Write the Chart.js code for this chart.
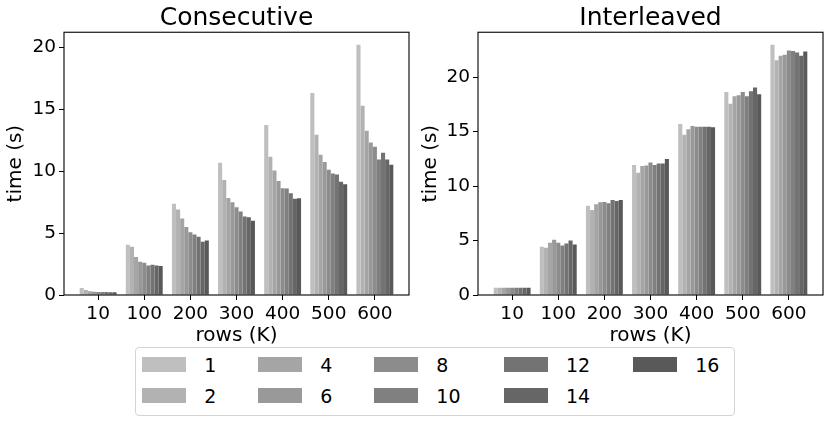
<!DOCTYPE html>
<html>
<head>
<meta charset="utf-8">
<script src="https://cdn.jsdelivr.net/npm/chart.js@4.4.0/dist/chart.umd.min.js"></script>
<style>
  body { margin: 0; background: #fff; font-family: "DejaVu Sans", sans-serif; }
  #page { position: relative; width: 830px; height: 423px; overflow: hidden; }
  .panel { position: absolute; top: 0; width: 415px; height: 348px; }
  #legend {
    position: absolute; left: 135px; top: 347px; width: 592px; height: 66px;
    border: 1px solid #d4d4d4; border-radius: 4px; background: #fff;
    display: grid; grid-auto-flow: column;
    grid-template-rows: 31px 31px;
    grid-template-columns: 116px 116px 129.7px 129.3px auto;
    padding: 1px 0 0 6.3px; box-sizing: content-box;
  }
  .item { display: flex; align-items: center; font-size: 19px; color: #000; }
  .swatch { width: 44px; height: 15px; margin-right: 18px; }
</style>
</head>
<body>
<div id="page">
  <div class="panel" style="left:0"><canvas id="left"></canvas></div>
  <div class="panel" style="left:415px"><canvas id="right"></canvas></div>
  <div id="legend"></div>
</div>
<script>
// x 軸のカテゴリ（行数, 千行）
const rowLabels = ['10', '100', '200', '300', '400', '500', '600'];
// スレッド数（凡例）
const threadLabels = ['1', '2', '4', '6', '8', '10', '12', '14', '16'];
const threadColors = ['#bfbfbf', '#b2b2b2', '#a5a5a5', '#999999', '#8c8c8c', '#808080', '#737373', '#666666', '#595959'];
const yTicks = [0, 5, 10, 15, 20];

// Consecutive: 1行 = 1スレッド数, 列 = rowLabels
const consecutive = [
    [0.56, 4.05, 7.36, 10.68, 13.72, 16.30, 20.20],
    [0.40, 3.89, 6.90, 9.29, 11.17, 12.94, 15.28],
    [0.30, 3.06, 6.17, 7.84, 10.04, 11.33, 13.26],
    [0.27, 2.68, 5.48, 7.49, 9.21, 10.74, 12.32],
    [0.25, 2.60, 5.07, 7.09, 8.62, 10.12, 11.97],
    [0.24, 2.38, 4.89, 6.74, 8.59, 9.80, 10.93],
    [0.24, 2.44, 4.70, 6.34, 8.21, 9.72, 11.49],
    [0.23, 2.38, 4.30, 6.28, 7.76, 9.15, 10.93],
    [0.23, 2.35, 4.40, 5.99, 7.81, 8.94, 10.52]
];

// Interleaved
const interleaved = [
    [0.67, 4.42, 8.20, 11.92, 15.70, 18.63, 22.96],
    [0.67, 4.33, 7.80, 11.22, 14.70, 17.56, 21.55],
    [0.67, 4.79, 8.32, 11.83, 15.20, 18.23, 21.95],
    [0.67, 5.06, 8.50, 11.89, 15.50, 18.32, 22.04],
    [0.67, 4.79, 8.54, 12.16, 15.45, 18.63, 22.44],
    [0.67, 4.54, 8.41, 11.92, 15.45, 18.23, 22.38],
    [0.67, 4.73, 8.72, 12.07, 15.43, 18.69, 22.26],
    [0.67, 5.00, 8.63, 12.07, 15.45, 19.05, 21.95],
    [0.67, 4.63, 8.72, 12.47, 15.40, 18.41, 22.35]
];

Chart.defaults.font.family = '"DejaVu Sans", sans-serif';
Chart.defaults.color = '#000';

// 枠線（matplotlib 風の四辺）
const framePlugin = {
    id: 'frame',
    afterDraw(chart) {
        const { ctx, chartArea: a } = chart;
        ctx.save();
        ctx.strokeStyle = '#000';
        ctx.lineWidth = 1.1;
        ctx.strokeRect(a.left, a.top, a.right - a.left, a.bottom - a.top);
        ctx.restore();
    }
};

function makeChart(id, title, values, yMax, yWidth, padRight) {
    const datasets = values.map((row, i) => ({
        label: threadLabels[i],
        data: row.map((v, j) => ({ x: j, y: v })),
        backgroundColor: threadColors[i],
        borderWidth: 0,
        categoryPercentage: 0.8,
        barPercentage: 1.0
    }));
    return new Chart(document.getElementById(id), {
        type: 'bar',
        data: { datasets },
        plugins: [framePlugin],
        options: {
            responsive: true,
            maintainAspectRatio: false,
            animation: false,
            layout: { padding: { left: 0, right: padRight, top: 0, bottom: 0 } },
            plugins: {
                legend: { display: false },
                tooltip: { enabled: false },
                title: {
                    display: true, text: title, color: '#000', fullSize: false,
                    font: { size: 25, weight: 'normal', lineHeight: 1.13 },
                    padding: { top: 4, bottom: 0 }
                }
            },
            scales: {
                x: {
                    type: 'linear', min: -0.74, max: 6.74, offset: false,
                    afterBuildTicks: s => { s.ticks = rowLabels.map((_, i) => ({ value: i })); },
                    afterFit: s => { s.height = 53; },
                    ticks: { font: { size: 18.5 }, padding: 3, maxRotation: 0, autoSkip: false,
                        callback: v => rowLabels[v] },
                    grid: { offset: false, drawOnChartArea: false, drawTicks: true, tickLength: 5, color: '#000' },
                    border: { display: false },
                    title: { display: true, text: 'rows (K)', font: { size: 20 }, padding: 0 }
                },
                y: {
                    min: 0, max: yMax,
                    afterBuildTicks: s => { s.ticks = yTicks.map(v => ({ value: v })); },
                    afterFit: s => { s.width = yWidth; },
                    ticks: { font: { size: 18.5 }, padding: 3 },
                    grid: { drawOnChartArea: false, drawTicks: true, tickLength: 5, color: '#000' },
                    border: { display: false },
                    title: { display: true, text: 'time (s)', font: { size: 20 }, padding: { top: 4 } }
                }
            }
        }
    });
}

makeChart('left', 'Consecutive', consecutive, 21.21, 64, 6);
makeChart('right', 'Interleaved', interleaved, 24.11, 63, 7);

// 凡例（列ごとに 2 段）
const legendBox = document.getElementById('legend');
threadLabels.forEach((label, i) => {
    const item = document.createElement('div');
    item.className = 'item';
    item.innerHTML = `<span class="swatch" style="background:${threadColors[i]}"></span><span>${label}</span>`;
    legendBox.appendChild(item);
});
</script>
</body>
</html>
